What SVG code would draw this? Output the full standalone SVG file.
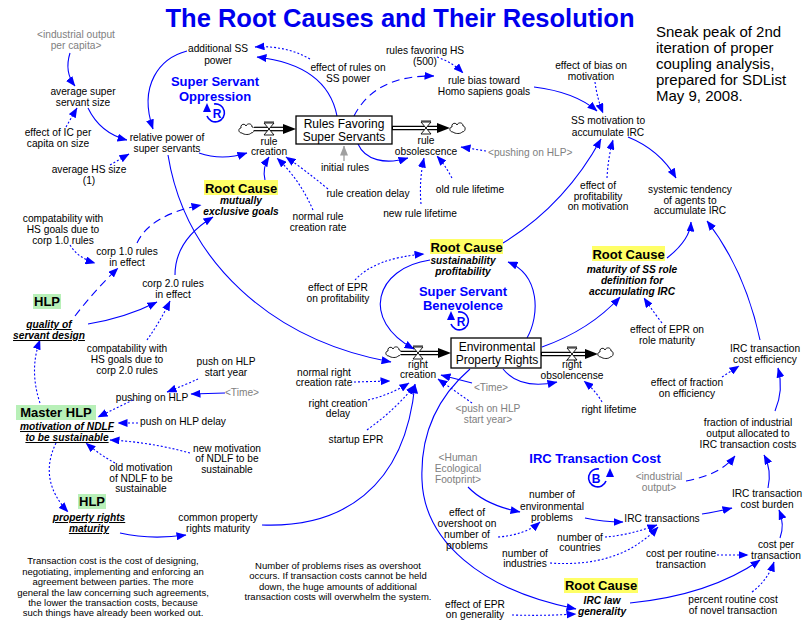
<svg xmlns="http://www.w3.org/2000/svg" xmlns:xlink="http://www.w3.org/1999/xlink" width="803" height="621" viewBox="0 0 803 621">
<style>
text{font-family:"Liberation Sans",Arial,sans-serif;font-size:10.2px;fill:#000;text-anchor:middle}
.g{fill:#808080}
.bi{font-weight:bold;font-style:italic}
.u{text-decoration:underline}
.rc{font-weight:bold;font-size:13px}
.loop{font-weight:bold;font-size:13px;fill:#0000ff}
.stock{font-size:12px}
.note{font-size:9.5px}
.hl-y{fill:#ffff66}
.hl-g{fill:#b8f0b8}
.c{fill:none;stroke:#0000ff;stroke-width:1.1;marker-end:url(#ah)}
.d{stroke-dasharray:2 2}
.l{stroke-dasharray:8 5}
.pipe-o{fill:none;stroke:#000;stroke-width:4.6}
.pipe-i{fill:none;stroke:#fff;stroke-width:2.2}
.box{fill:#fff;stroke:#000;stroke-width:1.3}
.lp{fill:none;stroke:#0000ff;stroke-width:1.6}
</style>
<defs>
<marker id="ah" viewBox="0 0 10 8" refX="9.5" refY="4" markerWidth="10" markerHeight="8" markerUnits="userSpaceOnUse" orient="auto">
<path d="M0,0 L10,4 L0,8 z" fill="#0000ff"/>
</marker>
<marker id="ahg" viewBox="0 0 10 8" refX="9.5" refY="4" markerWidth="10" markerHeight="8" markerUnits="userSpaceOnUse" orient="auto">
<path d="M0,0 L10,4 L0,8 z" fill="#a0a0a0"/>
</marker>
<g id="cloud">
<path d="M-5,4 C-9,4 -9,-1 -6,-1 C-7,-5 -2,-6 -1,-3 C0,-6 5,-6 5,-2 C8,-2 8,4 4,4 C3,6 -3,6 -5,4 z" fill="#fff" stroke="#000" stroke-width="0.9"/>
</g>
<g id="valve">
<line x1="-5" y1="-7" x2="5" y2="-7" stroke="#000" stroke-width="0.9"/>
<path d="M-5,-6 L5,-6 L0,0 z M-5,6 L5,6 L0,0 z" fill="#fff" stroke="#000" stroke-width="0.9"/>
</g>
</defs>

<rect width="803" height="621" fill="#fff"/>

<!-- heading and remarks -->
<text x="400" y="27" style="font-size:25.5px;font-weight:bold;fill:#0000ee">The Root Causes and Their Resolution</text>
<text style="font-size:15px;text-anchor:start"><tspan x="656" y="37">Sneak peak of 2nd</tspan><tspan x="656" y="53">iteration of proper</tspan><tspan x="656" y="69">coupling analysis,</tspan><tspan x="656" y="85">prepared for SDList</tspan><tspan x="656" y="101">May 9, 2008.</tspan></text>

<!-- connectors -->
<g id="connectors">
<path class="c" d="M70,53 Q64,72 75,86"/>
<path class="c" d="M88,108 Q100,133 127,140"/>
<path class="c d" d="M66,127 L77,108"/>
<path class="c d" d="M110,165 L129,154"/>
<path class="c" d="M187,51 C160,58 138,85 153,129"/>
<path class="c" d="M199,153 Q222,161 247,153"/>
<path class="c" d="M168,155 C185,260 270,340 391,362"/>
<path class="c" d="M265,180 Q262,168 269,157"/>
<path class="c d" d="M313,210 Q300,180 277,158"/>
<path class="c d" d="M328,189 Q305,170 286,157"/>
<path class="c" d="M337,116 C330,80 300,62 257,57"/>
<path class="c d" d="M310,59 Q285,45 255,47"/>
<path class="c l" d="M354,116 Q375,75 434,76"/>
<path class="c d" d="M437,57 Q452,62 463,73"/>
<path class="c" d="M534,87 Q575,92 597,111"/>
<path class="c d" d="M595,82 Q597,98 603,113"/>
<path class="c" d="M628,137 Q660,150 676,178"/>
<path class="c d" d="M607,178 Q608,158 613,140"/>
<path class="c" d="M503,243 Q565,205 601,139"/>
<path class="c" d="M358,144 C365,160 385,165 408,158"/>
<path class="c d" d="M486,151 L461,147"/>
<path class="c d" d="M452,178 Q445,165 437,156"/>
<path class="c d" d="M421,204 Q419,180 424,158"/>
<path d="M344,161 L344,146" fill="none" stroke="#a0a0a0" stroke-width="1.3" marker-end="url(#ahg)"/>
<path class="c d" d="M70,245 Q78,258 95,263"/>
<path class="c l" d="M75,316 Q95,290 118,268"/>
<path class="c l" d="M137,243 Q150,215 201,205"/>
<path class="c" d="M88,324 Q125,318 157,302"/>
<path class="c" d="M175,275 Q175,240 213,217"/>
<path class="c d" d="M147,340 Q160,322 170,301"/>
<path class="c d" d="M198,379 Q185,385 167,392"/>
<path class="c" d="M225,393 L191,394"/>
<path class="c d" d="M133,400 L98,417"/>
<path class="c d" d="M138,423 L118,423"/>
<path class="c d" d="M190,453 Q150,442 110,440"/>
<path class="c d" d="M115,463 Q100,455 86,443"/>
<path class="c d" d="M56,443 Q38,480 68,512"/>
<path class="c d" d="M40,403 Q29,370 40,340"/>
<path class="c" d="M120,533 Q150,540 186,535"/>
<path class="c" d="M262,525 C340,528 405,490 415,384"/>
<path class="c d" d="M354,382 L390,381"/>
<path class="c d" d="M368,400 Q390,395 409,383"/>
<path class="c d" d="M367,430 Q395,410 415,385"/>
<path class="c" d="M472,383 L441,375"/>
<path class="c d" d="M472,403 L438,379"/>
<path class="c" d="M430,260 C375,268 360,320 414,349"/>
<path class="c d" d="M355,280 Q375,258 424,254"/>
<path class="c" d="M527,338 C540,315 540,275 508,262"/>
<path class="c" d="M542,347 Q590,330 620,297"/>
<path class="c d" d="M662,323 Q652,310 644,298"/>
<path class="c" d="M667,258 Q690,240 691,222"/>
<path class="c" d="M760,340 Q745,270 707,221"/>
<path class="c d" d="M722,377 L739,366"/>
<path class="c" d="M775,411 Q784,390 778,368"/>
<path class="c" d="M503,369 Q520,390 557,382"/>
<path class="c d" d="M602,402 Q595,390 584,381"/>
<path class="c" d="M468,487 Q485,505 520,512"/>
<path class="c d" d="M498,537 Q525,535 540,522"/>
<path class="c" d="M585,518 Q603,522 623,522"/>
<path class="c d" d="M605,537 Q630,535 657,525"/>
<path class="c d" d="M550,563 Q620,568 658,527"/>
<path class="c" d="M702,514 Q715,512 732,508"/>
<path class="c l" d="M686,481 Q720,475 735,456"/>
<path class="c" d="M768,488 Q772,470 764,455"/>
<path class="c" d="M780,538 Q785,525 779,510"/>
<path class="c d" d="M717,555 L748,555"/>
<path class="c d" d="M752,592 Q768,580 774,562"/>
<path class="c" d="M630,603 Q710,595 760,560"/>
<path class="c d" d="M512,615 Q545,616 576,614"/>
<path class="c" d="M470,369 C440,395 420,430 422,480 C424,540 480,590 576,609"/>
</g>

<!-- loop markers -->
<g id="loop-oppression">
<text class="loop"><tspan x="215" y="86">Super Servant</tspan><tspan x="215" y="101">Oppression</tspan></text>
<path class="lp" d="M207,116 A9,9 0 1 0 214,104"/>
<path d="M203,112 L207,103 L211,112 z" fill="#0000ff"/>
<text x="217" y="118" style="font-weight:bold;font-size:12px;fill:#0000ff">R</text>
</g>
<g id="loop-benevolence">
<text class="loop"><tspan x="463" y="296">Super Servant</tspan><tspan x="463" y="310">Benevolence</tspan></text>
<path class="lp" d="M451,324 A9,9 0 1 0 458,312"/>
<path d="M447,320 L451,311 L455,320 z" fill="#0000ff"/>
<text x="461" y="326" style="font-weight:bold;font-size:12px;fill:#0000ff">R</text>
</g>
<g id="loop-transaction">
<text class="loop" x="595" y="463">IRC Transaction Cost</text>
<path class="lp" d="M606,481 A9,9 0 1 1 599,469"/>
<path d="M606,477 L610,468 L614,477 z" fill="#0000ff"/>
<text x="596" y="483" style="font-weight:bold;font-size:12px;fill:#0000ff">B</text>
</g>

<!-- stocks and flows -->
<g id="rule-creation">
<use xlink:href="#cloud" x="247" y="129"/>
<path class="pipe-o" d="M254,129 H285"/><path class="pipe-i" d="M253,129 H285"/>
<path d="M283,124 L296,129 L283,134 z" fill="#000"/>
<use xlink:href="#valve" x="269" y="129"/>
<text><tspan x="269" y="145">rule</tspan><tspan x="269" y="155">creation</tspan></text>
</g>
<g id="rules-favoring-super-servants">
<rect class="box" x="296" y="116" width="96" height="28"/>
<text class="stock"><tspan x="344" y="128">Rules Favoring</tspan><tspan x="344" y="141">Super Servants</tspan></text>
</g>
<g id="rule-obsolescence">
<path class="pipe-o" d="M392,128 H439"/><path class="pipe-i" d="M393,128 H439"/>
<path d="M437,123 L450,128 L437,133 z" fill="#000"/>
<use xlink:href="#cloud" x="458" y="128"/>
<use xlink:href="#valve" x="426" y="128"/>
<text><tspan x="426" y="144">rule</tspan><tspan x="426" y="155">obsolescence</tspan></text>
</g>
<g id="right-creation">
<use xlink:href="#cloud" x="394" y="352"/>
<path class="pipe-o" d="M401,353 H440"/><path class="pipe-i" d="M400,353 H440"/>
<path d="M438,348 L451,353 L438,358 z" fill="#000"/>
<use xlink:href="#valve" x="418" y="353"/>
<text><tspan x="418" y="368">right</tspan><tspan x="418" y="378">creation</tspan></text>
</g>
<g id="environmental-property-rights">
<rect class="box" x="451" y="338" width="90" height="30"/>
<text class="stock"><tspan x="497" y="351">Environmental</tspan><tspan x="497" y="364">Property Rights</tspan></text>
</g>
<g id="right-obsolencense">
<path class="pipe-o" d="M541,354 H587"/><path class="pipe-i" d="M542,354 H587"/>
<path d="M585,349 L598,354 L585,359 z" fill="#000"/>
<use xlink:href="#cloud" x="606" y="353"/>
<use xlink:href="#valve" x="572" y="354"/>
<text><tspan x="572" y="368">right</tspan><tspan x="572" y="379">obsolencense</tspan></text>
</g>

<!-- variables -->
<g id="industrial-output-per-capita"><text class="g"><tspan x="76" y="38">&lt;industrial output</tspan><tspan x="76" y="49">per capita&gt;</tspan></text></g>
<g id="additional-ss-power"><text><tspan x="218" y="52">additional SS</tspan><tspan x="218" y="64">power</tspan></text></g>
<g id="average-super-servant-size"><text><tspan x="83" y="95">average super</tspan><tspan x="83" y="106">servant size</tspan></text></g>
<g id="effect-of-ic"><text><tspan x="58" y="136">effect of IC per</tspan><tspan x="58" y="147">capita on size</tspan></text></g>
<g id="relative-power"><text><tspan x="167" y="141">relative power of</tspan><tspan x="167" y="152">super servants</tspan></text></g>
<g id="average-hs-size"><text><tspan x="89" y="173">average HS size</tspan><tspan x="89" y="184">(1)</tspan></text></g>
<g id="rules-favoring-hs"><text><tspan x="425" y="54">rules favoring HS</tspan><tspan x="425" y="65">(500)</tspan></text></g>
<g id="effect-of-rules"><text><tspan x="348" y="71">effect of rules on</tspan><tspan x="348" y="82">SS power</tspan></text></g>
<g id="rule-bias"><text><tspan x="484" y="84">rule bias toward</tspan><tspan x="484" y="95">Homo sapiens goals</tspan></text></g>
<g id="initial-rules"><text x="345" y="171">initial rules</text></g>
<g id="pushing-on-hlp-shadow"><text class="g" x="488" y="156" style="text-anchor:start">&lt;pushing on HLP&gt;</text></g>
<g id="old-rule-lifetime"><text x="470" y="193">old rule lifetime</text></g>
<g id="rule-creation-delay"><text x="368" y="197">rule creation delay</text></g>
<g id="new-rule-lifetime"><text x="420" y="217">new rule lifetime</text></g>
<g id="normal-rule-creation-rate"><text><tspan x="318" y="220">normal rule</tspan><tspan x="318" y="231">creation rate</tspan></text></g>
<g id="effect-of-bias"><text><tspan x="591" y="69">effect of bias on</tspan><tspan x="591" y="80">motivation</tspan></text></g>
<g id="ss-motivation"><text><tspan x="608" y="124">SS motivation to</tspan><tspan x="608" y="136">accumulate IRC</tspan></text></g>
<g id="effect-of-profitability"><text><tspan x="598" y="189">effect of</tspan><tspan x="598" y="200">profitability</tspan><tspan x="598" y="210">on motivation</tspan></text></g>
<g id="systemic-tendency"><text><tspan x="690" y="193">systemic tendency</tspan><tspan x="690" y="204">of agents to</tspan><tspan x="690" y="214">accumulate IRC</tspan></text></g>

<g id="root-cause-goals">
<rect class="hl-y" x="204" y="180" width="74" height="15"/>
<text class="rc" x="241" y="193">Root Cause</text>
<text class="bi"><tspan x="241" y="204">mutually</tspan><tspan x="241" y="215">exclusive goals</tspan></text>
</g>
<g id="compat-corp-1"><text><tspan x="63" y="222">compatability with</tspan><tspan x="63" y="233">HS goals due to</tspan><tspan x="63" y="244">corp 1.0 rules</tspan></text></g>
<g id="corp-1-rules"><text><tspan x="127" y="255">corp 1.0 rules</tspan><tspan x="127" y="266">in effect</tspan></text></g>
<g id="corp-2-rules"><text><tspan x="173" y="287">corp 2.0 rules</tspan><tspan x="173" y="298">in effect</tspan></text></g>
<g id="hlp-quality">
<rect class="hl-g" x="33" y="294" width="28" height="15"/>
<text class="rc" x="47" y="306">HLP</text>
<text class="bi u"><tspan x="49" y="328">quality of</tspan><tspan x="49" y="339">servant design</tspan></text>
</g>
<g id="compat-corp-2"><text><tspan x="127" y="352">compatability with</tspan><tspan x="127" y="363">HS goals due to</tspan><tspan x="127" y="374">corp 2.0 rules</tspan></text></g>
<g id="push-on-hlp-start-year"><text><tspan x="226" y="365">push on HLP</tspan><tspan x="226" y="376">start year</tspan></text></g>
<g id="pushing-on-hlp"><text x="152" y="401">pushing on HLP</text></g>
<g id="time-1"><text class="g" x="242" y="396">&lt;Time&gt;</text></g>

<g id="root-cause-profitability">
<rect class="hl-y" x="430" y="239" width="73" height="15"/>
<text class="rc" x="466.5" y="252">Root Cause</text>
<text class="bi"><tspan x="463" y="264">sustainability</tspan><tspan x="463" y="275">profitability</tspan></text>
</g>
<g id="effect-of-epr-profitability"><text><tspan x="338" y="291">effect of EPR</tspan><tspan x="338" y="302">on profitability</tspan></text></g>
<g id="normal-right-creation-rate"><text><tspan x="324" y="376">normal right</tspan><tspan x="324" y="386">creation rate</tspan></text></g>
<g id="right-creation-delay"><text><tspan x="338" y="407">right creation</tspan><tspan x="338" y="417">delay</tspan></text></g>
<g id="startup-epr"><text x="356" y="443">startup EPR</text></g>
<g id="time-2"><text class="g" x="491" y="391">&lt;Time&gt;</text></g>
<g id="push-on-hlp-start-year-shadow"><text class="g"><tspan x="488" y="412">&lt;push on HLP</tspan><tspan x="488" y="423">start year&gt;</tspan></text></g>

<g id="root-cause-maturity">
<rect class="hl-y" x="592" y="246" width="73" height="15"/>
<text class="rc" x="628.5" y="259">Root Cause</text>
<text class="bi"><tspan x="632" y="273">maturity of SS role</tspan><tspan x="632" y="284">definition for</tspan><tspan x="632" y="295">accumulating IRC</tspan></text>
</g>
<g id="effect-of-epr-role"><text><tspan x="667" y="333">effect of EPR on</tspan><tspan x="667" y="344">role maturity</tspan></text></g>
<g id="irc-cost-efficiency"><text><tspan x="765" y="352">IRC transaction</tspan><tspan x="765" y="363">cost efficiency</tspan></text></g>
<g id="effect-of-fraction"><text><tspan x="687" y="386">effect of fraction</tspan><tspan x="687" y="397">on efficiency</tspan></text></g>
<g id="right-lifetime"><text x="609" y="413">right lifetime</text></g>

<g id="master-hlp">
<rect class="hl-g" x="16" y="405" width="80" height="15"/>
<text class="rc" x="56" y="417">Master HLP</text>
<text class="bi u"><tspan x="67" y="430">motivation of NDLF</tspan><tspan x="67" y="441">to be sustainable</tspan></text>
</g>
<g id="push-on-hlp-delay"><text x="183" y="425">push on HLP delay</text></g>
<g id="new-motivation"><text><tspan x="227" y="452">new motivation</tspan><tspan x="227" y="462">of NDLF to be</tspan><tspan x="227" y="473">sustainable</tspan></text></g>
<g id="old-motivation"><text><tspan x="141" y="471">old motivation</tspan><tspan x="141" y="482">of NDLF to be</tspan><tspan x="141" y="492">sustainable</tspan></text></g>
<g id="hlp-property-rights">
<rect class="hl-g" x="78" y="494" width="28" height="15"/>
<text class="rc" x="92" y="506">HLP</text>
<text class="bi u"><tspan x="89" y="521">property rights</tspan><tspan x="89" y="532">maturity</tspan></text>
</g>
<g id="common-property-rights"><text><tspan x="218" y="521">common property</tspan><tspan x="218" y="532">rights maturity</tspan></text></g>

<g id="human-footprint"><text class="g"><tspan x="458" y="461">&lt;Human</tspan><tspan x="458" y="472">Ecological</tspan><tspan x="458" y="483">Footprint&gt;</tspan></text></g>
<g id="effect-of-overshoot"><text><tspan x="467" y="516">effect of</tspan><tspan x="467" y="527">overshoot on</tspan><tspan x="467" y="538">number of</tspan><tspan x="467" y="549">problems</tspan></text></g>
<g id="number-env-problems"><text><tspan x="552" y="498">number of</tspan><tspan x="552" y="510">environmental</tspan><tspan x="552" y="521">problems</tspan></text></g>
<g id="number-industries"><text><tspan x="525" y="557">number of</tspan><tspan x="525" y="567">industries</tspan></text></g>
<g id="number-countries"><text><tspan x="580" y="541">number of</tspan><tspan x="580" y="551">countries</tspan></text></g>
<g id="irc-transactions"><text x="662" y="522">IRC transactions</text></g>
<g id="industrial-output"><text class="g"><tspan x="659" y="480">&lt;industrial</tspan><tspan x="659" y="491">output&gt;</tspan></text></g>
<g id="fraction-allocated"><text><tspan x="748" y="426">fraction of industrial</tspan><tspan x="748" y="437">output allocated to</tspan><tspan x="748" y="448">IRC transaction costs</tspan></text></g>
<g id="irc-cost-burden"><text><tspan x="767" y="497">IRC transaction</tspan><tspan x="767" y="508">cost burden</tspan></text></g>
<g id="cost-per-transaction"><text><tspan x="776" y="548">cost per</tspan><tspan x="776" y="559">transaction</tspan></text></g>
<g id="cost-per-routine"><text><tspan x="681" y="557">cost per routine</tspan><tspan x="681" y="568">transaction</tspan></text></g>
<g id="root-cause-generality">
<rect class="hl-y" x="564" y="578" width="74" height="15"/>
<text class="rc" x="601" y="590">Root Cause</text>
<text class="bi"><tspan x="602" y="604">IRC law</tspan><tspan x="602" y="615">generality</tspan></text>
</g>
<g id="percent-routine-cost"><text><tspan x="733" y="603">percent routine cost</tspan><tspan x="733" y="614">of novel transaction</tspan></text></g>
<g id="effect-of-epr-generality"><text><tspan x="475" y="608">effect of EPR</tspan><tspan x="475" y="618">on generality</tspan></text></g>

<!-- explanatory notes -->
<text class="note"><tspan x="113" y="564">Transaction cost is the cost of designing,</tspan><tspan x="113" y="575">negotiating, implementing and enforcing an</tspan><tspan x="113" y="585">agreement between parties. The more</tspan><tspan x="113" y="596">general the law concerning such agreements,</tspan><tspan x="113" y="606">the lower the transaction costs, because</tspan><tspan x="113" y="616">such things have already been worked out.</tspan></text>
<text class="note"><tspan x="338" y="569">Number of problems rises as overshoot</tspan><tspan x="338" y="579">occurs. If transaction costs cannot be held</tspan><tspan x="338" y="590">down, the huge amounts of additional</tspan><tspan x="338" y="600">transaction costs will overwhelm the system.</tspan></text>
</svg>
